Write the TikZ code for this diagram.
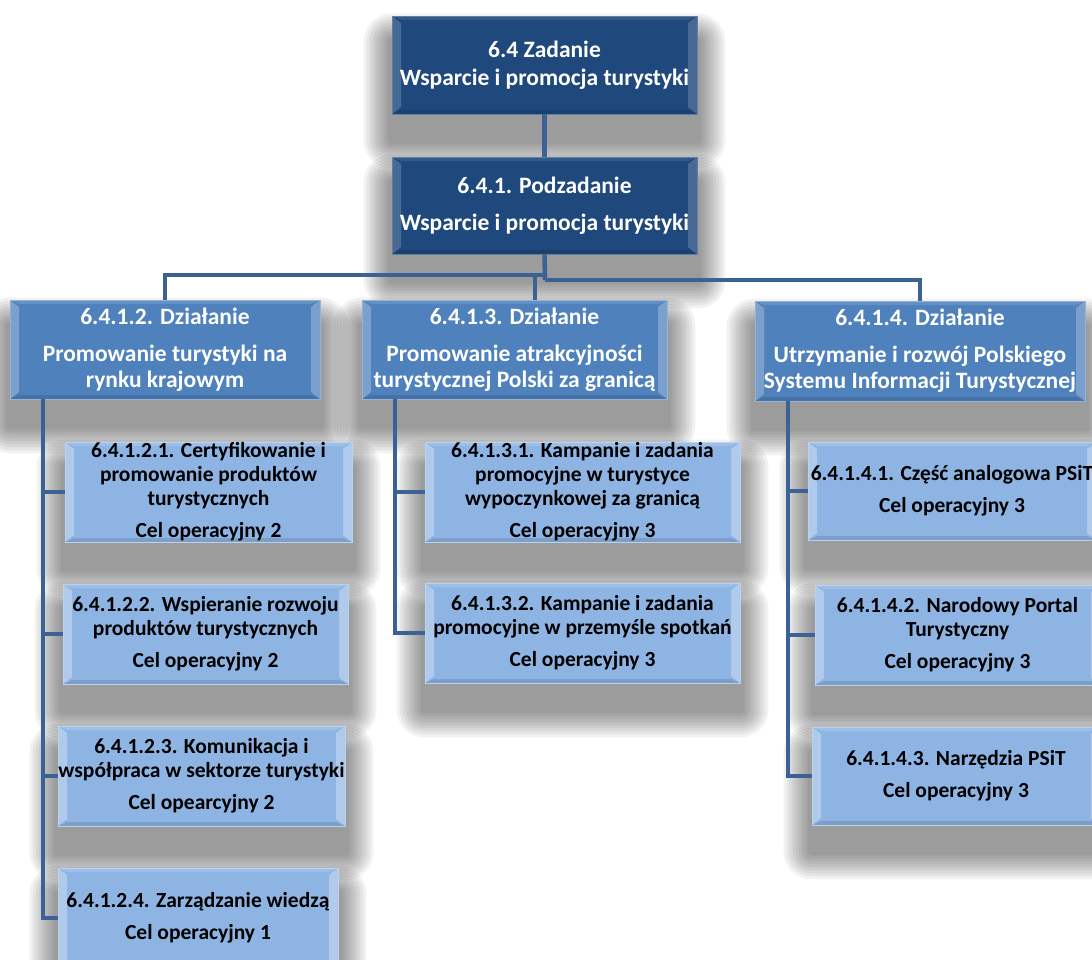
\documentclass[tikz,border=0pt]{standalone}
\usepackage{fontspec}
\setmainfont{Carlito}
\usetikzlibrary{calc}
\pgfdeclarelayer{shadowlayer}
\pgfsetlayers{shadowlayer,main}
\definecolor{navy}{HTML}{1F497D}
\definecolor{midblue}{HTML}{4F81BD}
\definecolor{lightblue}{HTML}{8EB4E3}
\definecolor{linec}{HTML}{3B6195}
\tikzset{
  bevel/.style={path picture={
    \fill[white,opacity=#1] (path picture bounding box.north west) -- (path picture bounding box.south west) -- ([shift={(9pt,7pt)}]path picture bounding box.south west) -- ([shift={(9pt,-7pt)}]path picture bounding box.north west) -- cycle;
    \fill[white,opacity=#1] (path picture bounding box.north east) -- (path picture bounding box.south east) -- ([shift={(-9pt,7pt)}]path picture bounding box.south east) -- ([shift={(-9pt,-7pt)}]path picture bounding box.north east) -- cycle;
    \fill[white,opacity=#1*0.5] (path picture bounding box.north west) -- (path picture bounding box.north east) -- ([shift={(-9pt,-4pt)}]path picture bounding box.north east) -- ([shift={(9pt,-4pt)}]path picture bounding box.north west) -- cycle;
    \fill[black,opacity=0.12] (path picture bounding box.south west) -- (path picture bounding box.south east) -- ([shift={(-9pt,4pt)}]path picture bounding box.south east) -- ([shift={(9pt,4pt)}]path picture bounding box.south west) -- cycle;
  }},
  basebox/.style={rectangle, inner sep=0pt, align=center},
  darkbox/.style={basebox, fill=navy, draw=navy!70!white, line width=0.8pt, bevel=0.18, text=white,
    font=\bfseries\fontsize{23.5}{28}\selectfont},
  midbox/.style={basebox, fill=midblue, draw=midblue!60!white, line width=0.8pt, bevel=0.25, text=white,
    font=\bfseries\fontsize{23.5}{26}\selectfont},
  leafbox/.style={basebox, fill=lightblue, draw=lightblue!60!white, line width=0.8pt, bevel=0.3, text=black,
    font=\bfseries\fontsize{21.5}{24}\selectfont},
  conn/.style={draw=linec, line width=4.5pt, line join=miter},
  softshadow/.style={fill=black, opacity=0.052}
}
\begin{document}
\begin{tikzpicture}[x=1pt,y=-1pt]
\useasboundingbox (0,0) rectangle (1092,960);
% level 0 / 1
\node[darkbox, minimum width=305pt, minimum height=98pt] (top) at (544.5,65) {6.4 Zadanie\\Wsparcie i promocja turystyki};
\node[darkbox, minimum width=305pt, minimum height=97pt] (sub) at (544.5,205.5) {6.4.1. Podzadanie\\[9pt]Wsparcie i promocja turystyki};
% level 2
\node[midbox, minimum width=310pt, minimum height=99pt] (A) at (165,349.5) {6.4.1.2. Działanie\\[11pt]Promowanie turystyki na\\rynku krajowym};
\node[midbox, minimum width=305pt, minimum height=99pt] (B) at (514.5,349.5) {6.4.1.3. Działanie\\[11pt]Promowanie atrakcyjności\\turystycznej Polski za granicą};
\node[midbox, minimum width=330pt, minimum height=100pt] (C) at (920,351) {6.4.1.4. Działanie\\[11pt]Utrzymanie i rozwój Polskiego\\Systemu Informacji Turystycznej};
% leaves left
\node[leafbox, minimum width=287pt, minimum height=100pt] (L1) at (208.5,492) {6.4.1.2.1. Certyfikowanie i\\promowanie produktów\\turystycznych\\[8pt]Cel operacyjny 2};
\node[leafbox, minimum width=285pt, minimum height=100pt] (L2) at (205.5,634) {6.4.1.2.2. Wspieranie rozwoju\\produktów turystycznych\\[8pt]Cel operacyjny 2};
\node[leafbox, minimum width=287pt, minimum height=100pt] (L3) at (201.5,776) {6.4.1.2.3. Komunikacja i\\współpraca w sektorze turystyki\\[8pt]Cel opearcyjny 2};
\node[leafbox, minimum width=280pt, minimum height=100pt] (L4) at (198,918) {6.4.1.2.4. Zarządzanie wiedzą\\[8pt]Cel operacyjny 1};
% leaves middle
\node[leafbox, minimum width=315pt, minimum height=100pt] (M1) at (582.5,492) {6.4.1.3.1. Kampanie i zadania\\promocyjne w turystyce\\wypoczynkowej za granicą\\[8pt]Cel operacyjny 3};
\node[leafbox, minimum width=315pt, minimum height=100pt] (M2) at (582.5,633) {6.4.1.3.2. Kampanie i zadania\\promocyjne w przemyśle spotkań\\[8pt]Cel operacyjny 3};
% leaves right
\node[leafbox, minimum width=288pt, minimum height=98pt] (R1) at (952,491) {6.4.1.4.1. Część analogowa PSiT\\[8pt]Cel operacyjny 3};
\node[leafbox, minimum width=285pt, minimum height=100pt] (R2) at (957.5,635) {6.4.1.4.2. Narodowy Portal\\Turystyczny\\[8pt]Cel operacyjny 3};
\node[leafbox, minimum width=288pt, minimum height=98pt] (R3) at (956,776) {6.4.1.4.3. Narzędzia PSiT\\[8pt]Cel operacyjny 3};
% soft shadows
\begin{pgfonlayer}{shadowlayer}
\fill[white] (0,0) rectangle (1092,960);
\foreach \n in {top,sub,A,B,C,L1,L2,L3,L4,M1,M2,R1,R2,R3}{
  \foreach \e in {28,25,...,2}{
    \fill[softshadow, rounded corners=\e pt] ($(\n.north west)+(-\e,26-\e)$) rectangle ($(\n.south east)+(\e,26+\e)$);
  }
}
\end{pgfonlayer}
% connector coordinates
\coordinate (barL) at (545,275);
\coordinate (barR) at (545,280);
\coordinate (midx) at (535,0);
\coordinate (spL) at (43,0);
\coordinate (spM) at (395,0);
\coordinate (spR) at (788,0);
% connectors
\draw[conn] (top.south) -- (sub.north);
\draw[conn] (sub.south) -- (barR);
\draw[conn] (A.north) |- (barL);
\draw[conn] (barR) -| (C.north);
\draw[conn] (B.north -| midx) -- (barL -| midx);
\draw[conn] (A.south -| spL) |- (L4.west);
\draw[conn] (L1.west -| spL) -- (L1.west);
\draw[conn] (L2.west -| spL) -- (L2.west);
\draw[conn] (L3.west -| spL) -- (L3.west);
\draw[conn] (B.south -| spM) |- (M2.west);
\draw[conn] (M1.west -| spM) -- (M1.west);
\draw[conn] (C.south -| spR) |- (R3.west);
\draw[conn] (R1.west -| spR) -- (R1.west);
\draw[conn] (R2.west -| spR) -- (R2.west);
\end{tikzpicture}
\end{document}
